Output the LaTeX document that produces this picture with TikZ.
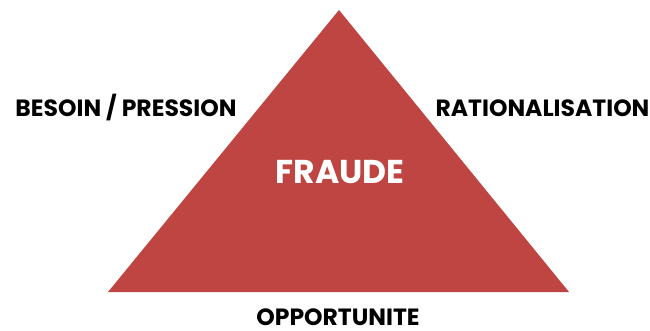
\documentclass[tikz,border=0pt]{standalone}
\usepackage{fontspec}
\setmainfont{Poppins}
\definecolor{fraudred}{HTML}{BE4542}
\begin{document}
\begin{tikzpicture}[x=1pt,y=-1pt,
  lbl/.style={font=\bfseries\fontsize{23.5}{23.5}\selectfont, text=black, inner sep=0pt, text depth=0pt, anchor=base},
  center/.style={font=\bfseries\fontsize{33}{33}\selectfont, text=white, inner sep=0pt, anchor=base}]
\useasboundingbox (0,0) rectangle (650,331);
\fill[fraudred] (108,292) coordinate (bl) -- (339,10) coordinate (apex) -- (569,292) coordinate (br) -- cycle;
\node[center] (fraude) at (340,183.5) {FRAUDE};
\node[lbl] (besoin) at (126,117) {BESOIN / PRESSION};
\node[lbl] (ratio) at (542.5,117) {RATIONALISATION};
\node[lbl] (opp) at (338,325.5) {OPPORTUNITE};
\end{tikzpicture}
\end{document}
